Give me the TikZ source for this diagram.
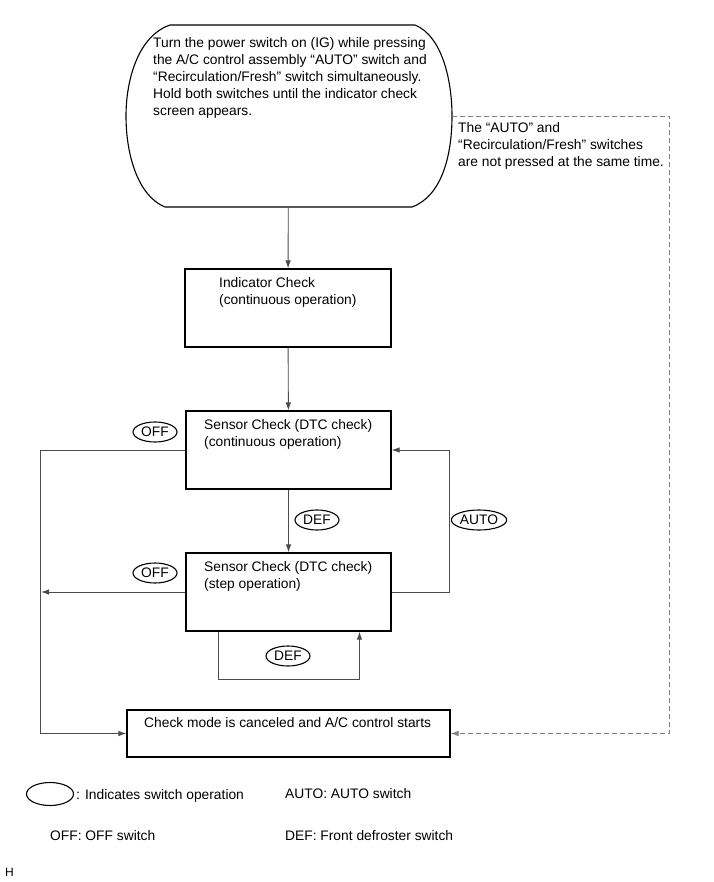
\documentclass[tikz,border=0pt]{standalone}
\usepackage{fontspec}
\setsansfont{Liberation Sans}
\usetikzlibrary{arrows.meta,shapes.geometric}

\begin{document}
\begin{tikzpicture}[x=1pt,y=-1pt,>={Latex[length=8pt,width=5.5pt]}]
    \tikzstyle{every node}=[font=\fontsize{13.8}{17}\sffamily]
    \tikzstyle{box}=[draw,line width=1.1pt,minimum width=206,minimum height=78,inner sep=0]
    \tikzstyle{txt}=[anchor=north west,align=left,inner sep=0]
    \tikzstyle{sw}=[draw,ellipse,line width=1.1pt,minimum width=44,minimum height=20,inner sep=0.5pt]
    \tikzstyle{conn}=[draw=black!70,line width=0.9pt]
    \tikzstyle{dashline}=[draw=black!50,line width=0.9pt,dash pattern=on 5pt off 3pt]

    \useasboundingbox (0,0) rectangle (713,882);

    % start condition
    \node[minimum width=326,minimum height=182,inner sep=0] (start) at (288.5,116) {};
    \draw[line width=1.1pt] (170,25) -- (415,25)
    .. controls (442,36) and (452,80) .. (452,116)
    .. controls (452,155) and (442,196) .. (412,207)
    -- (165,207)
    .. controls (138,196) and (126,155) .. (126,116)
    .. controls (126,80) and (138,36) .. (170,25) -- cycle;
    \node[txt] (starttxt) at (153,37)
    {Turn the power switch on (IG) while pressing\\
    the A/C control assembly “AUTO” switch and\\
    “Recirculation/Fresh” switch simultaneously.\\
    Hold both switches until the indicator check\\
    screen appears.};

    % check boxes
    \node[box] (ind) at (288,308) {};
    \node[txt] (indtxt) at (219,277) {Indicator Check\\(continuous operation)};

    \node[box,minimum width=205] (s1) at (288.5,450) {};
    \node[txt] (s1txt) at (204,419) {Sensor Check (DTC check)\\(continuous operation)};

    \node[box,minimum width=205] (s2) at (288.5,592) {};
    \node[txt] (s2txt) at (204,561) {Sensor Check (DTC check)\\(step operation)};

    \node[box,minimum width=323,minimum height=47] (fin) at (288.5,733.5) {};
    \node[txt] (fintxt) at (144,717) {Check mode is canceled and A/C control starts};

    % switch operations
    \node[sw] (off1) at (155,432) {OFF};
    \node[sw] (off2) at (155,573) {OFF};
    \node[sw] (def1) at (317,520) {DEF};
    \node[sw] (auto) at (479,520) {AUTO};
    \node[sw] (def2) at (288,656) {DEF};

    % connectors
    \coordinate (offbus) at (41,0);
    \draw[conn,->] (start) -- (ind);
    \draw[conn,->] (ind) -- (s1);
    \draw[conn,->] (s1) -- (s2);
    \draw[conn,->] (s1.west) -- ++(-145,0) |- (fin.west);
    \draw[conn,->] (s2.west) -- (s2.west -| offbus);
    \draw[conn,->] (s2.east) -- ++(58,0) |- (s1.east);
    \draw[conn,->] ([xshift=-70]s2.south) -- ++(0,48) -| ([xshift=71]s2.south);
    \draw[dashline,->] (start.east) -- ++(218,0) |- (fin.east);

    \node[txt] (nopress) at (458,122)
    {The “AUTO” and\\
    “Recirculation/Fresh” switches\\
    are not pressed at the same time.};

    % legend
    \node[draw,ellipse,line width=1.1pt,minimum width=47,minimum height=23] (key) at (50,794) {};
    \node[txt] (keytxt) at (76,789) {: Indicates switch operation};
    \node[txt] (autotxt) at (285,788) {AUTO: AUTO switch};
    \node[txt] (offtxt) at (50,830) {OFF: OFF switch};
    \node[txt] (deftxt) at (285,830) {DEF: Front defroster switch};
    \node[txt,font=\fontsize{12}{14}\sffamily] (figid) at (5,868) {H};
\end{tikzpicture}
\end{document}
